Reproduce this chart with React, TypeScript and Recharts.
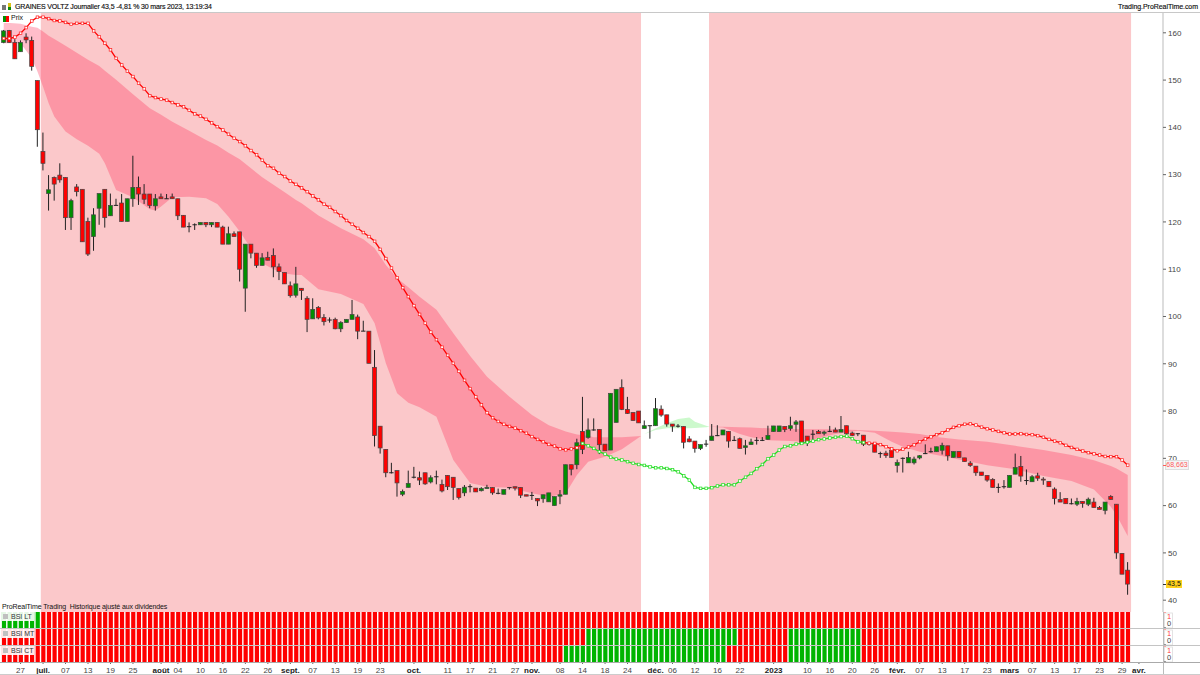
import React from "react";
import {
  Area,
  Bar,
  BarChart,
  Cell,
  ComposedChart,
  Line,
  ReferenceArea,
  XAxis,
  YAxis,
} from "recharts";

const candleOpen = [
  157.95, 160.5, 157.95, 156, 159.1, 158.4, 149.9, 134.9, 126, 129.4,
  129.9, 129.4, 120.9, 127.4, 126.9, 120.1, 116.9, 122.9, 126.9, 121.3,
  123.5, 124, 120.1, 124.9, 127.3, 125.9, 125.9, 123.4, 125.3, 124.9,
  125.3, 124.9, 121.4, 119, 119.4, 119.4, 119.9, 119.4, 119.9, 118.9,
  115.3, 117.5, 117.9, 106, 115.3, 113.4, 110.8, 112.5, 112.9, 110.5,
  109.3, 106.5, 104.5, 105.97, 103.85, 99.5, 101.9, 99.8, 99.25, 99.4,
  97.4, 98.7, 99.4, 99.9, 96.9, 96.9, 89.25, 76.8, 71.9, 66.95,
  67.4, 62.4, 63.85, 66, 65.9, 66.95, 65, 66.1, 64.5, 66.4,
  66, 63.6, 62.7, 64, 63.7, 63.15, 63.6, 63.85, 62.6, 62.4,
  63.8, 64, 63.85, 62.3, 62.15, 61.5, 61.45, 60.8, 60, 62,
  62.4, 68.65, 68.65, 75.7, 74.4, 76, 76.13, 73, 71.75, 77.6,
  84.95, 80.35, 79.7, 80, 76.3, 76.9, 76.9, 80.4, 79.2, 77.25,
  76.8, 76.75, 74.1, 73.65, 72.1, 73, 73.8, 74.8, 74.95, 75.7,
  73.8, 74.15, 72.3, 72.9, 73.8, 73.8, 74, 75.65, 75.65, 76.75,
  76.3, 77.2, 77.9, 74.7, 75.1, 75.7, 75.3, 75.7, 76, 75.55,
  76.9, 75.35, 75.2, 74.9, 73, 73.15, 71, 71.1, 71.75, 68.5,
  69.9, 69.05, 69.05, 70.1, 71, 71.4, 71.4, 71.7, 72.65, 70.2,
  71.45, 70.1, 69, 68.35, 67.1, 66.4, 65.55, 63.85, 64, 63.85,
  66.65, 68.3, 65.3, 65.05, 66.3, 65.6, 65.1, 63.5, 61.3, 61.5,
  60.4, 60.3, 60.9, 60.3, 60.75, 59.6, 59, 61.95, 60.3, 49.9, 46.35,
];

const candleClose = [
  160.4, 157.95, 154.5, 157.95, 158.5, 152.9, 139.5, 132.4, 126.8, 128,
  128.9, 120.9, 124.5, 126.4, 115.8, 113.2, 121.5, 126, 120.9, 123.5,
  123.5, 120.1, 124.9, 127.3, 125.9, 124.8, 123.5, 124.9, 124.9, 124.9,
  124.9, 121.3, 118.9, 119, 119.4, 119.9, 119.4, 119.9, 118.9, 115.3,
  117.5, 116.9, 110, 115.3, 113.4, 110.8, 112.4, 111.9, 110.5, 109.5,
  106.9, 104.4, 106.9, 105.47, 99.4, 101.5, 99.7, 98.9, 99.25, 97.4,
  98.7, 99.4, 100.4, 96.9, 96.9, 90.1, 74.8, 72.2, 66.95, 66.95,
  64.8, 63, 64.7, 66, 65.4, 64.6, 65.9, 66.1, 63.1, 64,
  63.85, 61.7, 63.9, 64, 62.9, 63.6, 63.85, 62.7, 62.6, 63.4,
  63.8, 63.7, 62.2, 62, 62.15, 61, 62.3, 62.7, 61.9, 62.3,
  68.65, 67.7, 73.3, 71.9, 76, 76, 72.88, 71.6, 83.75, 84.6,
  80.35, 79.5, 78, 77.5, 76.9, 76.9, 80.5, 79.15, 77.25, 76.8,
  76.8, 73.4, 73.5, 72.1, 72.9, 73, 74.7, 74.8, 76, 73.65,
  73.8, 72.1, 72.65, 73.45, 73.8, 73.8, 74.85, 76.85, 76.85, 76.1,
  76.9, 77.7, 73.4, 73.4, 75.1, 75.2, 75.55, 75.7, 75.55, 76.1,
  75.2, 74.85, 75.2, 73, 72.9, 71.3, 71, 70.6, 70.2, 69.1,
  70, 70.2, 69.85, 70.55, 71, 71.4, 72.45, 72.75, 70.55, 71.45,
  70.2, 69.3, 68.5, 66.95, 66.4, 65.4, 63.85, 63.85, 64, 66.4,
  68.05, 66.25, 65.3, 66.1, 65.8, 65.4, 64, 61.5, 60.75, 60.4,
  60.4, 60.9, 60.45, 61.35, 59.6, 59.2, 60.75, 61.3, 50, 45.5, 43.4,
];

const candleHigh = [
  160.6, 160.6, 158.66, 158.4, 159.9, 159.2, 149.9, 138.9, 129.9, 129.6,
  132.4, 129.4, 124.9, 128, 126.9, 120.9, 122.9, 126, 126.9, 126,
  124.9, 125.9, 124.9, 134, 129.6, 128, 125.9, 125.9, 126, 125.9,
  126, 124.9, 121.4, 119.9, 119.7, 119.9, 119.9, 119.9, 119.9, 119.2,
  119, 118, 117.9, 115.3, 115.3, 113.4, 113.4, 113.7, 114.4, 111.2,
  109.3, 107.4, 110.5, 106, 104.3, 103.85, 102.2, 100.5, 99.8, 99.75,
  99, 99.4, 103.5, 100.4, 99.1, 96.9, 92.9, 76.8, 71.9, 69.05,
  67.4, 63.4, 67.4, 68.2, 67.2, 66.95, 66.4, 67.4, 65.5, 66.4,
  66, 63.6, 64.35, 64.5, 63.7, 63.9, 64.4, 63.85, 63.6, 63.4,
  63.85, 64, 63.85, 62.3, 62.9, 61.5, 62.3, 62.7, 61.9, 63.3,
  68.65, 68.65, 74.15, 83, 78.45, 78.45, 76.13, 73, 83.75, 84.6,
  86.7, 83, 79.7, 80, 78, 76.9, 82.75, 81.2, 79.2, 77.25,
  77.25, 76.75, 74.7, 73.65, 72.9, 73.9, 77.25, 77, 76, 75.7,
  74.7, 74.4, 73.9, 74.15, 74.5, 74.5, 76.9, 76.85, 76.85, 76.75,
  78.8, 78.1, 77.9, 74.7, 76, 76, 75.85, 76.85, 76.5, 78.95,
  76.9, 75.65, 75.35, 74.9, 73.3, 73.15, 71.4, 71.6, 72, 69.75,
  70.2, 71.4, 70.35, 70.7, 72.95, 72.25, 72.45, 73.3, 72.65, 71.45,
  71.45, 70.1, 69.4, 68.35, 67.1, 66.4, 65.8, 64.7, 65.4, 66.4,
  71, 70.5, 67.65, 66.45, 66.95, 66, 65.1, 63.85, 62.85, 61.5,
  61.5, 61.65, 60.9, 61.7, 61.65, 59.9, 60.75, 62.2, 60.3, 49.9, 48.05,
];

const candleLow = [
  157.8, 157.9, 154.5, 156, 157.8, 152, 135.9, 130.9, 122.4, 124.5,
  128.3, 118.3, 118.3, 125.4, 115.8, 112.8, 113.9, 119.4, 118.8, 121.3,
  123.5, 120.1, 120.1, 123.2, 123.6, 123.8, 122.9, 122.4, 124.9, 124.9,
  124.9, 120.4, 118.9, 117.8, 118.3, 119.4, 118.9, 118.9, 118.9, 115.3,
  115.3, 116.9, 107.4, 101, 112.3, 110.3, 110.8, 111.9, 108.3, 107.7,
  106.9, 104, 104, 103.5, 96.7, 99.5, 99.4, 98.1, 98.7, 97.3,
  96.7, 98.7, 99.4, 95.2, 96.9, 90.1, 72.5, 71, 66, 66.8,
  61.9, 62, 63.85, 65.75, 64.35, 64.4, 64.7, 64.5, 62.8, 63.3,
  61.2, 61.3, 62, 62.8, 62.9, 63, 63.6, 62.3, 62.4, 62.4,
  63.4, 63.2, 61.6, 62, 61.2, 59.9, 60.6, 60.8, 60, 60.3,
  62.4, 66.4, 67.7, 70.9, 74.15, 75.85, 70.9, 71.6, 71.75, 77.6,
  80.2, 79.4, 78, 77.5, 76.3, 74.15, 76.9, 78.8, 76.7, 75.6,
  76.5, 72.1, 73.4, 71.2, 71.75, 72.45, 73.8, 74.7, 74.95, 72.25,
  73.65, 72.1, 70.8, 72.9, 72.9, 73.65, 73.9, 75.65, 75.65, 75.55,
  75.85, 75.6, 73.4, 72.6, 73.9, 75.2, 74.85, 75.55, 75.55, 75.55,
  75, 74.7, 74.7, 72.6, 72.7, 71.3, 70.1, 70.1, 70.2, 67,
  67, 69.05, 68.7, 69.8, 70.9, 71.2, 71.4, 70.8, 69.5, 70.2,
  70.2, 69.3, 68.2, 66.3, 66.4, 65.05, 63.85, 62.7, 63.6, 63.85,
  66.65, 65.05, 64.4, 65.05, 65.25, 64.4, 64, 60.25, 60.75, 60.4,
  60.25, 59.9, 59.55, 59.9, 59.6, 59.2, 58.15, 61.3, 48.75, 45.5, 41.15,
];

// trailing stop, one value per session
const stopValues = [
  158.8, 158.8, 159.1, 159.9, 161.1, 162.5, 163.3, 163.3, 163, 162.6,
  162.5, 162.2, 161.8, 162, 162, 162, 160.4, 159.15, 157.8, 156.4,
  154.6, 153.2, 151.9, 150.75, 149.35, 148.15, 146.7, 146.3, 146, 145.75,
  145.25, 144.75, 144.35, 143.6, 142.85, 142.4, 141.7, 140.95, 140.15, 139.45,
  138.55, 137.7, 137, 136.1, 135.1, 134.2, 133.05, 131.9, 131.35, 130.3,
  129.6, 128.65, 127.95, 127.2, 126.4, 125.5, 124.66, 123.75, 123.1, 122.2,
  121.35, 120.3, 119.5, 118.65, 117.75, 116.9, 115.9, 114.2, 112.25, 110.25,
  108.2, 106.1, 104.2, 102.3, 100.45, 98.6, 96.7, 95.1, 93.5, 91.8,
  90.1, 88.4, 86.5, 84.75, 83, 81.3, 79.65, 78.6, 77.8, 77.2,
  76.75, 76.4, 75.85, 75.3, 74.6, 74, 73.5, 72.95, 72.6, 72,
  71.8, 72, 72.25, 73.15, 72.65, 72.1, 71.4, 70.9, 70.25, 69.85,
  69.65, 69.3, 68.95, 68.7, 68.5, 68.2, 68, 68, 67.85, 67.6,
  67.15, 66.3, 65.4, 63.85, 63.65, 63.65, 63.8, 64.15, 64.4, 64.4,
  64.4, 65.2, 66, 66.8, 67.8, 68.7, 69.9, 70.7, 71.75, 72.5,
  72.65, 73, 73.15, 73.4, 73.65, 73.95, 74.1, 74.3, 74.45, 74.6,
  74.7, 74.15, 73.5, 73.35, 73.2, 73.15, 72.9, 72.45, 72, 71.6,
  71.95, 72.4, 72.85, 73.5, 74.1, 74.55, 75, 75.4, 76, 76.55,
  76.9, 77.2, 77.3, 77.05, 76.6, 76.25, 76, 75.7, 75.4, 75.15,
  75.15, 75.2, 75.05, 75, 74.8, 74.45, 74, 73.65, 73.3, 72.75,
  72.3, 71.9, 71.55, 71.2, 70.95, 70.7, 70.4, 70.35, 70.35, 69.65, 68.55,
];
const stopGreenFrom = 103;
const stopGreenTo = 153;

// cloud outline, read at these session numbers
const cloudSessions = [
  0, 3, 5, 6, 7, 8, 9, 11, 13, 15, 17, 18, 20, 23, 26, 27, 28, 30, 33, 36, 38, 40, 42, 44, 46, 48, 50, 52,
  53, 56, 60, 64, 66, 68, 70, 72, 74, 77, 80, 83, 86, 90, 94, 97, 100, 102, 104, 105, 107, 110, 113.4,
];
const cloudUpper = [
  162.2, 161.9, 161.3, 161.05, 160.3, 159.4, 158.7, 157.25, 155.8, 154.3, 153, 152, 150.05, 147, 144.05, 143.35, 142.65, 141.2, 139.3, 137.35, 136.15, 134.65, 133.25, 131.35, 129.45, 127.85, 126.3, 124.65,
  123.95, 121.35, 118.65, 116.35, 114.45, 110.9, 108.1, 106.2, 104.2, 101.4, 96.45, 91.65, 87.25, 83, 79.15, 77, 75.65, 75.05, 74.8, 74.45, 74.45, 74.45, 74.7,
];
const cloudLower = [
  157.8, 157.8, 154.6, 151.8, 148.6, 145.1, 142.3, 139.1, 137.5, 136.1, 134.4, 132.4, 126.75, 125.2, 122.7, 122.4, 123.25, 125.2, 125.35, 125, 123.8, 121.1, 118, 114.4, 111.25, 110, 109.1, 108.8,
  108.8, 105.75, 104.75, 102.65, 98.55, 90.1, 83.75, 81.75, 80.8, 78.8, 69.65, 64.8, 64, 63.8, 62.6, 61.9, 62.6, 66.5, 69.3, 69.65, 70.35, 71.9, 74.7,
];

const greenCloudSessions = [113.4, 114, 116, 118, 120, 121, 122, 123, 125, 125.6];
const greenCloudUpper = [74.7, 75.15, 76.35, 77.4, 78.3, 78.5, 78.65, 77.75, 76.9, 76.7];
const greenCloudLower = [74.7, 75.15, 76, 76.35, 76.35, 76.35, 76.35, 76.4, 76.6, 76.7];

const lateCloudSessions = [
  125.6, 128, 131, 133, 136, 140, 142, 144, 148, 152, 155, 158, 160, 163, 166, 170, 175, 180, 185, 190, 194, 197, 198, 200,
];
const lateCloudUpper = [
  76.7, 76.7, 76.55, 76.5, 76.35, 76.2, 76.15, 76.15, 76.15, 76, 75.85, 75.6, 75.45, 75.15, 74.5, 74, 73.5, 72.65, 71.75, 70.7, 69.6, 68.4, 67.85, 66.45,
];
const lateCloudLower = [
  76.7, 76.5, 75.15, 74.45, 73.85, 73.65, 73.5, 74, 75.15, 75.85, 75.4, 73.5, 72.45, 71.4, 70.7, 69.75, 68.55, 67.7, 66.25, 65.2, 63.4, 59.75, 58, 53.55,
];

// shaded regime: [from, to] in session numbers, the white gap sits between them
const shadedRanges = [
  [6.6, 113.4],
  [125.5, 200.6],
];

const priceTicks = [160, 150, 140, 130, 120, 110, 100, 90, 80, 70, 60, 50, 40];

const dateTickSessions = [
  3, 7, 11, 15, 19, 23, 28, 31, 35, 39, 43, 47, 51, 55, 59, 63, 67, 73, 79, 83, 87, 91, 94, 99, 103, 107, 111, 116,
  119, 123, 127, 131, 137, 143, 147, 151, 155, 159, 163, 167, 171, 175, 179, 183, 187, 191, 195, 199, 202,
];
const dateTickLabels = [
  "27", "juil.", "07", "13", "19", "25", "août", "04", "10", "16", "22", "26", "sept.", "07", "13", "19", "23", "oct.", "11", "17", "21", "27", "nov.", "08", "14", "18", "24", "déc.",
  "06", "12", "16", "22", "2023", "10", "16", "20", "26", "févr.", "07", "13", "17", "23", "mars", "07", "13", "17", "23", "29", "avr.",
];
const monthLabels = ["juil.", "août", "sept.", "oct.", "nov.", "déc.", "2023", "févr.", "mars", "avr."];

const bsiLtRuns: [string, number][] = [["G", 7], ["R", 194]];
const bsiMtRuns: [string, number][] = [["R", 104], ["G", 27], ["R", 9], ["G", 13], ["R", 48]];
const bsiCtRuns: [string, number][] = [["R", 100], ["G", 29], ["R", 11], ["G", 13], ["R", 48]];

const FONT = '"Liberation Sans", Arial, sans-serif';
const RED = "#ff0000";
const GREEN = "#008f00";
const X_DOMAIN: [number, number] = [-0.66, 206.28];
const PANEL_AXIS_WIDTH = 37;

const candles = candleOpen.map((open, i) => ({
  i,
  open,
  close: candleClose[i],
  high: candleHigh[i],
  low: candleLow[i],
}));

const stopRows = stopValues.map((v, i) => ({
  i,
  red: i <= stopGreenFrom || i >= stopGreenTo ? v : null,
  green: i >= stopGreenFrom && i <= stopGreenTo ? v : null,
}));

const zipCloud = (xs: number[], upper: number[], lower: number[]) =>
  xs.map((i, k) => ({ i, upper: upper[k], lower: lower[k] }));

const cloudRows = zipCloud(cloudSessions, cloudUpper, cloudLower);
const greenCloudRows = zipCloud(greenCloudSessions, greenCloudUpper, greenCloudLower);
const lateCloudRows = zipCloud(lateCloudSessions, lateCloudUpper, lateCloudLower);

function signalRows(runs: [string, number][]) {
  const rows: { i: number; on: number; signal: string }[] = [];
  runs.forEach(([signal, count]) => {
    for (let n = 0; n < count; n++) rows.push({ i: rows.length, on: 1, signal });
  });
  return rows;
}

function CandleShape(props: any) {
  const { x, y, width, height, payload } = props;
  const { open, close, high, low } = payload;
  const perUnit = height / (high - low || 1);
  const top = y + (high - Math.max(open, close)) * perUnit;
  const bodyH = Math.abs(open - close) * perUnit;
  const cx = x + width / 2;
  const up = close > open;
  return (
    <g>
      <line x1={cx} x2={cx} y1={y} y2={y + height} stroke="#222" strokeWidth={1} />
      {bodyH < 0.8 ? (
        <line x1={cx - 2.2} x2={cx + 2.2} y1={top} y2={top} stroke="#222" strokeWidth={1} />
      ) : (
        <rect
          x={cx - 2}
          y={top}
          width={4}
          height={bodyH}
          fill={up ? GREEN : RED}
          stroke="#444"
          strokeWidth={0.7}
        />
      )}
    </g>
  );
}

function stopDot(color: string) {
  return (props: any) => {
    const { cx, cy, index } = props;
    if (cy == null) return <g key={index} />;
    return (
      <rect
        key={index}
        x={cx - 1.3}
        y={cy - 1.3}
        width={2.6}
        height={2.6}
        fill="#fff"
        stroke={color}
        strokeWidth={0.7}
      />
    );
  };
}

function DateTick(props: any) {
  const { x, y, index } = props;
  const label = dateTickLabels[index];
  const bold = monthLabels.includes(label);
  return (
    <text
      x={x}
      y={y + 7}
      textAnchor="middle"
      fontSize={8}
      fontFamily={FONT}
      fontWeight={bold ? 700 : 400}
      fill={bold ? "#222" : "#444"}
    >
      {label}
    </text>
  );
}

function UnitTick(props: any) {
  const { y, payload } = props;
  const one = payload.value === 1;
  return (
    <g>
      {!one && <rect x={1164.5} y={y - 15} width={8} height={15} fill="#fff" stroke="#ddd" strokeWidth={0.8} />}
      <line x1={1163} x2={1166} y1={y} y2={y} stroke={one ? "#ff6060" : "#444"} strokeWidth={1} />
      <text
        x={1167}
        y={one ? y + 7 : y - 2}
        fontSize={7.5}
        fontFamily={FONT}
        fill={one ? "#ff4040" : "#444"}
      >
        {payload.value}
      </text>
    </g>
  );
}

function SignalPanel({
  name,
  runs,
  top,
  withDates,
}: {
  name: string;
  runs: [string, number][];
  top: number;
  withDates?: boolean;
}) {
  const rows = signalRows(runs);
  return (
    <div style={{ position: "absolute", left: 0, top }}>
      <BarChart
        width={1200}
        height={withDates ? 28 : 16}
        data={rows}
        margin={{ top: 0, right: 0, bottom: 0, left: 0 }}
        barCategoryGap={0}
      >
        <XAxis
          dataKey="i"
          type="number"
          domain={X_DOMAIN}
          allowDataOverflow
          hide={!withDates}
          height={12}
          ticks={dateTickSessions}
          interval={0}
          axisLine={false}
          tickLine={{ stroke: "#666" }}
          tickSize={2}
          tick={<DateTick />}
        />
        <YAxis
          orientation="right"
          width={PANEL_AXIS_WIDTH}
          domain={[0, 1]}
          ticks={[0, 1]}
          interval={0}
          axisLine={false}
          tickLine={false}
          tick={<UnitTick />}
        />
        <Bar dataKey="on" barSize={4.2} isAnimationActive={false}>
          {rows.map((r) => (
            <Cell key={r.i} fill={r.signal === "G" ? "#00b400" : RED} />
          ))}
        </Bar>
      </BarChart>
      <div
        style={{
          position: "absolute",
          left: 2,
          top: 0,
          width: 32,
          height: 9,
          background: "rgba(255,255,255,0.9)",
          fontSize: 7,
          lineHeight: "9px",
          fontFamily: FONT,
          color: "#333",
          whiteSpace: "nowrap",
        }}
      >
        <span style={{ display: "inline-block", width: 5, height: 5, background: "#c0c0c0", margin: "0 3px 0 1px" }} />
        {name}
      </div>
    </div>
  );
}

const labelStyle: React.CSSProperties = {
  position: "absolute",
  fontFamily: FONT,
  fontSize: 7,
  lineHeight: "10px",
  color: "#111",
  whiteSpace: "nowrap",
};

export default function App() {
  return (
    <div
      style={{
        position: "absolute",
        left: 0,
        top: 0,
        width: 1200,
        height: 675,
        background: "#fff",
        overflow: "hidden",
      }}
    >
      <div style={{ position: "absolute", left: 0, top: 12 }}>
        <ComposedChart
          width={1200}
          height={600}
          data={candles}
          margin={{ top: 0, right: 0, bottom: 0, left: 0 }}
        >
          <XAxis dataKey="i" type="number" domain={X_DOMAIN} allowDataOverflow hide />
          <YAxis
            orientation="right"
            width={PANEL_AXIS_WIDTH}
            domain={[37.5, 164.4]}
            allowDataOverflow
            ticks={priceTicks}
            interval={0}
            axisLine={{ stroke: "#bbb" }}
            tickLine={{ stroke: "#666" }}
            tickSize={3}
            tick={{ fontSize: 8, fontFamily: FONT, fill: "#444" }}
          />
          {shadedRanges.map(([from, to]) => (
            <ReferenceArea key={from} x1={from} x2={to} fill="#fbc8ca" fillOpacity={1} stroke="none" />
          ))}
          <Area
            data={cloudRows}
            dataKey={(d: any) => [d.lower, d.upper]}
            type="linear"
            fill="#ff254f"
            fillOpacity={0.3}
            stroke="none"
            isAnimationActive={false}
          />
          <Area
            data={greenCloudRows}
            dataKey={(d: any) => [d.lower, d.upper]}
            type="linear"
            fill="#00e000"
            fillOpacity={0.2}
            stroke="none"
            isAnimationActive={false}
          />
          <Area
            data={lateCloudRows}
            dataKey={(d: any) => [d.lower, d.upper]}
            type="linear"
            fill="#ff254f"
            fillOpacity={0.3}
            stroke="none"
            isAnimationActive={false}
          />
          <Bar
            dataKey={(d: any) => [d.low, d.high]}
            barSize={4}
            shape={<CandleShape />}
            isAnimationActive={false}
          />
          <Line
            data={stopRows}
            dataKey="red"
            type="linear"
            stroke="#ff0000"
            strokeWidth={1.3}
            dot={stopDot("#ff2020")}
            activeDot={false}
            connectNulls={false}
            isAnimationActive={false}
          />
          <Line
            data={stopRows}
            dataKey="green"
            type="linear"
            stroke="#22dd22"
            strokeWidth={1.3}
            dot={stopDot("#22dd22")}
            activeDot={false}
            connectNulls={false}
            isAnimationActive={false}
          />
        </ComposedChart>
      </div>

      <SignalPanel name="BSI LT" runs={bsiLtRuns} top={612} />
      <SignalPanel name="BSI MT" runs={bsiMtRuns} top={629} />
      <SignalPanel name="BSI CT" runs={bsiCtRuns} top={646} withDates />

      {/* frame lines */}
      <div style={{ position: "absolute", left: 0, top: 12, width: 1200, height: 1, background: "#c8c8c8" }} />
      <div style={{ position: "absolute", left: 0, top: 628, width: 1200, height: 1, background: "#c4c4c4" }} />
      <div style={{ position: "absolute", left: 0, top: 645, width: 1200, height: 1, background: "#c4c4c4" }} />
      <div style={{ position: "absolute", left: 0, top: 662, width: 1200, height: 1, background: "#aaa" }} />
      <div style={{ position: "absolute", left: 0, top: 674, width: 1200, height: 1, background: "#ccc" }} />
      <div style={{ position: "absolute", left: 1163, top: 612, width: 1, height: 62, background: "#bbb" }} />

      {/* header */}
      <div style={{ position: "absolute", left: 2, top: 5, width: 4, height: 5, background: "#777" }} />
      <div style={{ position: "absolute", left: 8, top: 3, width: 3, height: 4, background: "#d8c21a" }} />
      <div style={{ position: "absolute", left: 8, top: 7, width: 3, height: 3, background: "#0a8a0a" }} />
      <div style={{ ...labelStyle, left: 15, top: 2, letterSpacing: -0.15, WebkitTextStroke: "0.15px #111" }}>
        GRAINES VOLTZ Journalier 43,5 -4,81 % 30 mars 2023, 13:19:34
      </div>
      <div style={{ ...labelStyle, right: 2, top: 2, letterSpacing: -0.05, WebkitTextStroke: "0.15px #111" }}>
        Trading.ProRealTime.com
      </div>

      {/* legend */}
      <div style={{ position: "absolute", left: 2, top: 14, width: 21, height: 9, background: "rgba(255,255,255,0.85)" }}>
        <span style={{ position: "absolute", left: 1, top: 2, width: 3, height: 6, background: GREEN }} />
        <span style={{ position: "absolute", left: 4, top: 2, width: 3, height: 6, background: RED }} />
        <span style={{ ...labelStyle, left: 9, top: -1 }}>Prix</span>
      </div>

      <div style={{ ...labelStyle, left: 2, top: 602, letterSpacing: -0.1 }}>
        ProRealTime Trading{"\u00a0 "}Historique ajusté aux dividendes
      </div>

      {/* last value tags */}
      <div
        style={{
          ...labelStyle,
          left: 1166,
          top: 461,
          width: 22,
          height: 8,
          lineHeight: "8px",
          background: "#f4f4f4",
          outline: "1px solid #ddd",
          color: "#ff5a5a",
          textAlign: "center",
        }}
      >
        68,663
      </div>
      <div style={{ position: "absolute", left: 1163, top: 465, width: 3, height: 1, background: "#ff5a5a" }} />
      <div
        style={{
          ...labelStyle,
          left: 1166,
          top: 580,
          width: 16,
          height: 8,
          lineHeight: "8px",
          background: "#ffd21e",
          textAlign: "center",
        }}
      >
        43,5
      </div>
      <div style={{ position: "absolute", left: 1163, top: 584, width: 3, height: 1, background: "#333" }} />
    </div>
  );
}
